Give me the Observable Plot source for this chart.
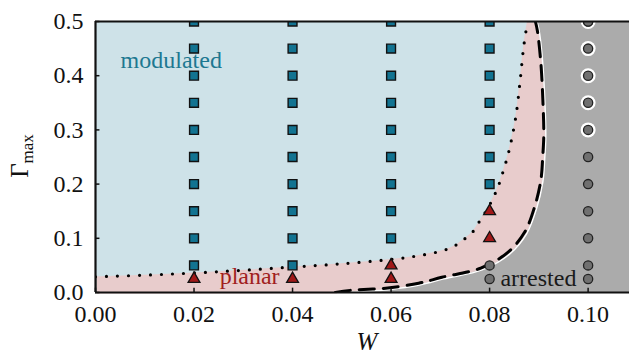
<!DOCTYPE html>
<html>
<head>
<meta charset="utf-8">
<script src="https://cdn.jsdelivr.net/npm/d3@7"></script>
<script src="https://cdn.jsdelivr.net/npm/@observablehq/plot@0.6"></script>
<style>
  html, body { margin: 0; padding: 0; background: #fff; }
  #chart { width: 629px; height: 356px; }
  #chart svg, #chart svg text, #chart svg tspan { font-family: "Liberation Serif", serif !important; }
</style>
</head>
<body>
<div id="chart"></div>
<script>
// ---- tick values ----
const xTicks = [0, 0.02, 0.04, 0.06, 0.08, 0.10];
const yTicks = [0, 0.1, 0.2, 0.3, 0.4, 0.5];

// ---- modulated (squares) ----
const modulatedW = [
  0.02, 0.02, 0.02, 0.02, 0.02, 0.02, 0.02, 0.02, 0.02, 0.02,
  0.04, 0.04, 0.04, 0.04, 0.04, 0.04, 0.04, 0.04, 0.04, 0.04,
  0.06, 0.06, 0.06, 0.06, 0.06, 0.06, 0.06, 0.06, 0.06,
  0.08, 0.08, 0.08, 0.08, 0.08, 0.08, 0.08
];
const modulatedG = [
  0.05, 0.10, 0.15, 0.20, 0.25, 0.30, 0.35, 0.40, 0.45, 0.50,
  0.05, 0.10, 0.15, 0.20, 0.25, 0.30, 0.35, 0.40, 0.45, 0.50,
  0.10, 0.15, 0.20, 0.25, 0.30, 0.35, 0.40, 0.45, 0.50,
  0.20, 0.25, 0.30, 0.35, 0.40, 0.45, 0.50
];

// ---- planar (triangles) ----
const planarW = [0.02, 0.04, 0.06, 0.06, 0.08, 0.08];
const planarG = [0.025, 0.025, 0.025, 0.05, 0.10, 0.15];

// ---- arrested (circles) ----
const arrestedW = [0.08, 0.08, 0.10, 0.10, 0.10, 0.10, 0.10, 0.10, 0.10, 0.10, 0.10, 0.10, 0.10, 0.10];
const arrestedG = [0.025, 0.05, 0.025, 0.05, 0.10, 0.15, 0.20, 0.25, 0.30, 0.35, 0.40, 0.45, 0.50, 0.50];
// arrested points drawn with a white ring
const ringW = [0.10, 0.10, 0.10, 0.10, 0.10];
const ringG = [0.30, 0.35, 0.40, 0.45, 0.50];

// ---- modulated / planar boundary (dotted) ----
const dottedW = [0, 0.01, 0.02, 0.03, 0.04, 0.05, 0.06, 0.065, 0.07, 0.0725, 0.0745, 0.0765, 0.078, 0.0796, 0.0808, 0.0818, 0.0828, 0.0839, 0.0853, 0.0862, 0.0869, 0.0877];
const dottedG = [0.029, 0.032, 0.036, 0.041, 0.047, 0.053, 0.061, 0.067, 0.076, 0.084, 0.096, 0.111, 0.132, 0.155, 0.176, 0.197, 0.225, 0.26, 0.323, 0.391, 0.452, 0.5];

// ---- planar / arrested boundary (dashed) ----
const dashedW = [0.0487, 0.0518, 0.0589, 0.0656, 0.0703, 0.0782, 0.0837, 0.0871, 0.0891, 0.0904, 0.0908, 0.091, 0.0908, 0.0904, 0.0897, 0.0893];
const dashedG = [0, 0.004, 0.008, 0.017, 0.028, 0.045, 0.074, 0.111, 0.157, 0.207, 0.253, 0.29, 0.358, 0.424, 0.483, 0.5];

// ---- region labels ----
const regionLabels = ["modulated", "planar", "arrested"];
const labelW = [0.0051, 0.0252, 0.0822];
const labelG = [0.428, 0.0295, 0.026];
const labelColors = ["#1d7891", "#a11e1e", "#1a1a1a"];

// ---- build tables ----
const modulated = modulatedW.map((w, i) => ({w, g: modulatedG[i]}));
const planar = planarW.map((w, i) => ({w, g: planarG[i]}));
const arrested = arrestedW.map((w, i) => ({w, g: arrestedG[i]}));
const ring = ringW.map((w, i) => ({w, g: ringG[i]}));
const dotted = dottedW.map((w, i) => ({w, g: dottedG[i]}));
const dashed = dashedW.map((w, i) => ({w, g: dashedG[i]}));
const labels = regionLabels.map((t, i) => ({t, w: labelW[i], g: labelG[i], c: labelColors[i]}));

const BLUE = "#cee2e8", PINK = "#e8cccc", GRAY = "#ababab";
const FONT = "Liberation Serif";

const chart = Plot.plot({
  width: 629,
  height: 356,
  marginLeft: 95,
  marginRight: 0,
  marginTop: 21,
  marginBottom: 64,
  style: {fontFamily: FONT, fontSize: "24px", background: "white", color: "#111", overflow: "visible"},
  x: {domain: [0, 0.1084]},
  y: {domain: [0, 0.5]},
  marks: [
    Plot.frame({fill: GRAY, stroke: "none"}),
    Plot.areaX(dashed, {y: "g", x1: () => 0, x2: "w", fill: PINK, curve: "catmull-rom", dx: 2, dy: 1.5}),
    Plot.areaX(dotted, {y: "g", x1: () => 0, x2: "w", fill: BLUE, curve: "catmull-rom"}),
    Plot.line(dashed, {x: "w", y: "g", stroke: "white", strokeWidth: 1.5, curve: "catmull-rom", dx: 2, dy: 1.5}),
    Plot.line(dashed, {x: "w", y: "g", stroke: "black", strokeWidth: 3, strokeDasharray: "15 9", curve: "catmull-rom", clip: true}),
    Plot.line(dotted, {x: "w", y: "g", stroke: "black", strokeWidth: 3.2, strokeDasharray: "0 11", strokeLinecap: "round", curve: "catmull-rom", clip: true}),
    Plot.dot(ring, {x: "w", y: "g", r: 7.5, fill: "white", stroke: "none", clip: true}),
    Plot.dot(arrested, {x: "w", y: "g", r: 4.6, fill: "#707070", stroke: "#222", strokeWidth: 1.3, clip: true}),
    Plot.dot(planar, {x: "w", y: "g", symbol: "triangle", r: 4.4, fill: "#a11818", stroke: "#111", strokeWidth: 1.3, clip: true}),
    Plot.dot(modulated, {x: "w", y: "g", symbol: "square", r: 5, fill: "#127391", stroke: "#111", strokeWidth: 1.4, clip: true}),
    Plot.text(labels, {x: "w", y: "g", text: "t", fill: "c", textAnchor: "start", fontSize: 24}),
    Plot.ruleX(xTicks, {x: d => d, y1: () => 0, y2: () => 0.008, stroke: "#111", strokeWidth: 1.5}),
    Plot.ruleY(yTicks, {y: d => d, x1: () => 0, x2: () => 0.0009, stroke: "#111", strokeWidth: 1.5}),
    Plot.ruleX([0], {stroke: "#111", strokeWidth: 2.2}),
    Plot.ruleY([0, 0.5], {stroke: "#111", strokeWidth: 2.2}),
    Plot.axisX(xTicks, {tickSize: 0, tickPadding: 12, tickFormat: d3.format(".2f"), label: null, fontSize: 24}),
    Plot.axisY(yTicks, {tickSize: 0, tickPadding: 12, tickFormat: d3.format(".1f"), label: null, fontSize: 24})
  ]
});

const svg = d3.select(chart);
svg.selectAll("text").attr("font-family", FONT);
// y axis label: Γ_max
const yl = svg.append("text")
  .attr("transform", "translate(28,156) rotate(-90)")
  .attr("text-anchor", "middle")
  .attr("font-family", FONT)
  .attr("font-size", 25)
  .attr("fill", "#111");
yl.append("tspan").text("Γ");
yl.append("tspan").attr("font-size", 17).attr("dy", 5).text("max");
// x axis label: W
svg.append("text")
  .attr("x", 367).attr("y", 350)
  .attr("text-anchor", "middle")
  .attr("font-family", FONT)
  .attr("font-style", "italic")
  .attr("font-size", 25)
  .attr("fill", "#111")
  .text("W");

document.getElementById("chart").appendChild(chart);
</script>
</body>
</html>
